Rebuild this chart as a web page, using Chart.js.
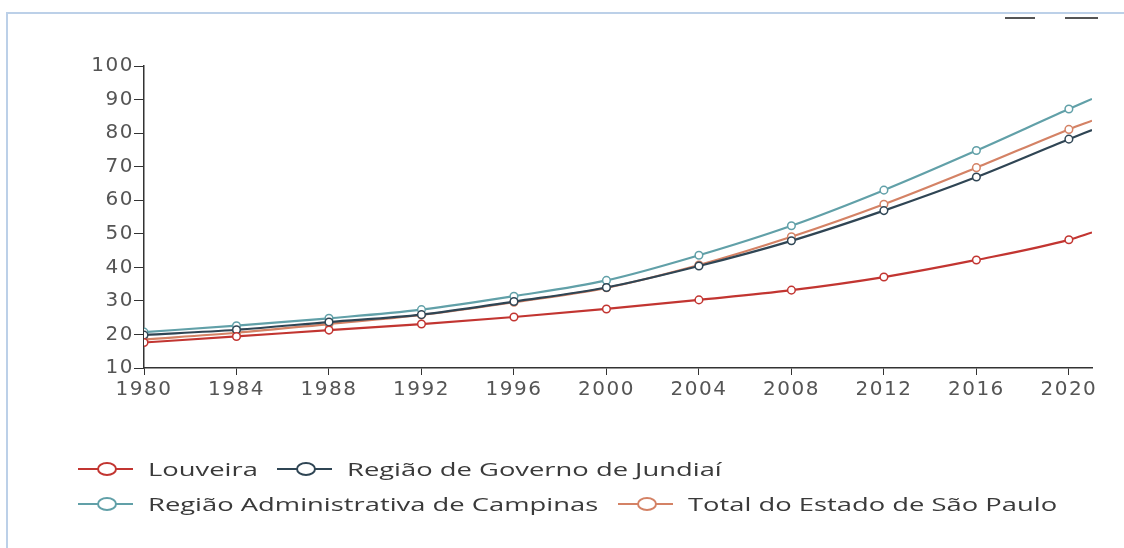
<!DOCTYPE html>
<html>
<head>
<meta charset="utf-8">
<script src="https://cdn.jsdelivr.net/npm/chart.js@4.4.1/dist/chart.umd.min.js"></script>
<style>
  body { margin: 0; background: #fff; }
  #wrap { position: relative; width: 1124px; height: 548px; overflow: hidden; }
  #frame { position: absolute; left: 6px; top: 12px; right: -2px; bottom: -2px;
           border-left: 2px solid #bcd0e8; border-top: 2px solid #bcd0e8; }
  #box { position: absolute; left: 0; top: 0; width: 1124px; height: 548px; }
  .tool { position: absolute; top: 17px; height: 2px; background: #555; }
  .leg { position: absolute; display: flex; align-items: center; height: 24px;
         font-family: "Open Sans", sans-serif; font-size: 18px; color: #3a3a3a; white-space: nowrap; }
  .leg span { display: inline-block; transform: scaleX(1.52); transform-origin: left center; }
  .ico { position: relative; width: 55px; height: 24px; margin-right: 15px; }
  .ico .ln { position: absolute; left: 0; right: 0; top: 11px; height: 2px; }
  .ico .cc { position: absolute; left: 19px; top: 5px; width: 16px; height: 10px;
             border: 2px solid; border-radius: 50%; background: #fff; }
</style>
</head>
<body>
<div id="wrap">
  <div id="frame"></div>
  <div class="tool" style="left:1005px;width:30px"></div>
  <div class="tool" style="left:1065px;width:33px"></div>
  <div id="box"><canvas id="c"></canvas></div>
  <div id="legend"></div>
</div>
<script>
// data (every 4 years, line runs on to 2021)
const years = [1980, 1984, 1988, 1992, 1996, 2000, 2004, 2008, 2012, 2016, 2020, 2021];
const louveira = [17.6, 19.4, 21.3, 23.1, 25.2, 27.6, 30.3, 33.2, 37.1, 42.2, 48.2, 50.4];
const jundiai = [19.8, 21.4, 23.7, 25.9, 29.8, 34.0, 40.4, 47.9, 56.9, 66.9, 78.2, 80.9];
const campinas = [20.7, 22.6, 24.8, 27.4, 31.4, 36.1, 43.6, 52.4, 63.0, 74.8, 87.2, 90.2];
const saoPaulo = [18.5, 20.5, 23.1, 25.8, 29.6, 33.9, 40.7, 49.1, 58.8, 69.7, 81.1, 83.7];
const seriesNames = ['Louveira', 'Região de Governo de Jundiaí', 'Região Administrativa de Campinas', 'Total do Estado de São Paulo'];
const seriesColors = ['#c23531', '#2f4554', '#61a0a8', '#d48265'];
const seriesData = [louveira, jundiai, campinas, saoPaulo];
const yTicks = [10, 20, 30, 40, 50, 60, 70, 80, 90, 100];
const xTicks = [1980, 1984, 1988, 1992, 1996, 2000, 2004, 2008, 2012, 2016, 2020];

const datasets = seriesData.map((vals, i) => {
  return {
    label: seriesNames[i],
    data: vals.map((v, j) => ({ x: years[j], y: v })),
    borderColor: seriesColors[i],
    backgroundColor: '#fff',
    borderWidth: 2.2,
    pointRadius: ctx => (ctx.dataIndex === years.length - 1 ? 0 : 3.8),
    pointBorderWidth: 1.5,
    pointBackgroundColor: '#fff',
    cubicInterpolationMode: 'monotone',
    fill: false
  };
});

const tickFont = { family: 'DejaVu Sans', size: 20 };

// the original text is drawn wide, spread the glyphs a little
const wideText = {
  id: 'wideText',
  beforeDraw: chart => { chart.ctx.letterSpacing = '1.5px'; }
};

new Chart(document.getElementById('c'), {
  type: 'line',
  data: { datasets: datasets },
  plugins: [wideText],
  options: {
    responsive: true,
    maintainAspectRatio: false,
    animation: false,
    layout: { padding: { top: 66, right: 32, left: 0, bottom: 0 } },
    plugins: { legend: { display: false }, tooltip: { enabled: false } },
    scales: {
      x: {
        type: 'linear',
        min: 1980,
        max: 2021,
        afterBuildTicks: s => { s.ticks = xTicks.map(v => ({ value: v })); },
        afterFit: s => { s.height = 180; },
        border: { color: '#333', width: 1.5 },
        grid: { drawOnChartArea: false, drawTicks: true, tickLength: 7, color: '#333' },
        ticks: { font: tickFont, color: '#555', padding: 3, maxRotation: 0, callback: v => String(v) }
      },
      y: {
        min: 10,
        max: 100,
        afterBuildTicks: s => { s.ticks = yTicks.map(v => ({ value: v })); },
        afterFit: s => { s.width = 144; },
        border: { color: '#333', width: 1.5 },
        grid: { drawOnChartArea: false, drawTicks: true, tickLength: 10, color: '#333' },
        ticks: { font: tickFont, color: '#555', padding: 0 }
      }
    }
  }
});

// legend in the page, laid out like the original
const legendPos = [[78, 457], [277, 457], [78, 492], [618, 492]];
const legendBox = document.getElementById('legend');
seriesNames.forEach((name, i) => {
  const item = document.createElement('div');
  item.className = 'leg';
  item.style.left = legendPos[i][0] + 'px';
  item.style.top = legendPos[i][1] + 'px';
  item.innerHTML = `<div class="ico"><div class="ln" style="background:${seriesColors[i]}"></div>` +
    `<div class="cc" style="border-color:${seriesColors[i]}"></div></div><span>${name}</span>`;
  legendBox.appendChild(item);
});
</script>
</body>
</html>
